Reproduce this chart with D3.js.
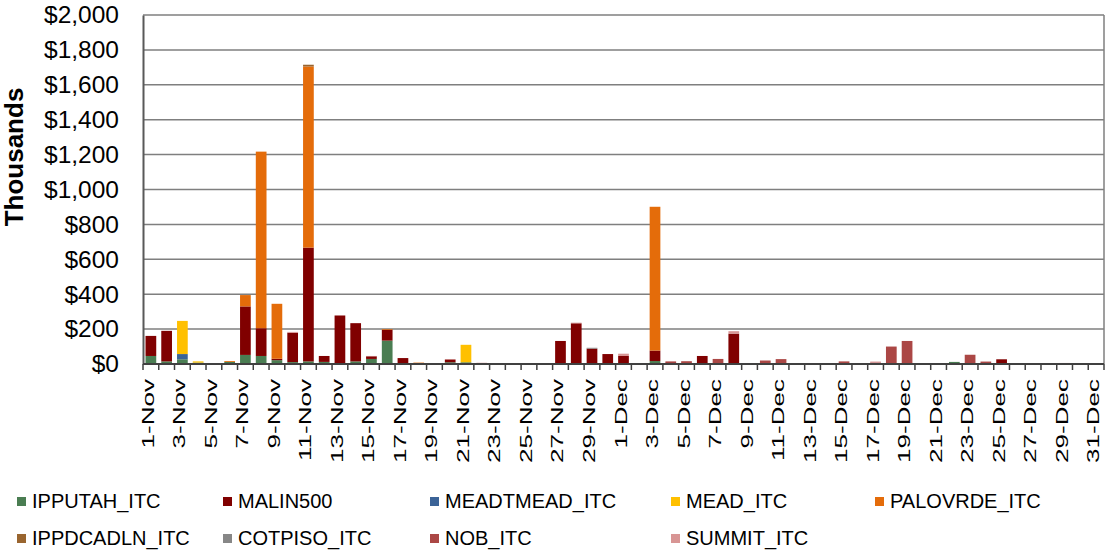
<!DOCTYPE html>
<html><head><meta charset="utf-8">
<script src="https://cdn.jsdelivr.net/npm/d3@7"></script>
<style>body{margin:0;background:#fff}svg{display:block}text{font-family:"Liberation Sans",Arial,sans-serif}</style>
</head><body><svg id="c" width="1106" height="550"></svg>
<script>
const months = [["Nov",30],["Dec",31]];
const categories = [];
months.forEach(([m,n]) => { for (let d=1; d<=n; d++) categories.push(d + "-" + m); });

const seriesNames = ["IPPUTAH_ITC","MALIN500","MEADTMEAD_ITC","MEAD_ITC","PALOVRDE_ITC","IPPDCADLN_ITC","COTPISO_ITC","NOB_ITC","SUMMIT_ITC"];
const seriesColors = ["#4a7d52","#800000","#3b6397","#ffc000","#e46c0a","#99652f","#878787","#ab4745","#d89594"];

// values in thousands of $, one per day (1-Nov .. 31-Dec)
const IPPUTAH_ITC   = [46,15,27,8,4,12,52,46,22,11,15,12,0,15,29,134,0,0,0,10,10,0,0,0,0,0,0,0,0,0, 0,0,17,0,0,0,0,0,0,0,0,0,0,0,0,0,0,0,0,0,0,12,0,0,0,0,0,0,0,0,0];
const MALIN500      = [115,175,0,0,0,0,278,159,8,168,652,34,278,219,14,62,34,0,0,13,0,0,0,0,0,0,132,232,88,57, 46,0,60,10,4,46,0,174,0,0,0,0,0,0,0,0,8,0,0,0,0,0,0,4,27,0,0,2,0,0,0];
const MEADTMEAD_ITC = [0,0,30,0,0,0,0,0,0,0,0,0,0,0,0,0,0,0,0,0,0,0,0,0,0,0,0,0,0,0, 0,0,0,0,0,0,0,0,0,0,0,0,0,0,0,0,0,0,0,0,0,0,0,0,0,0,0,0,0,0,0];
const MEAD_ITC      = [0,0,190,7,0,0,0,0,0,0,0,0,0,0,0,0,0,0,0,0,100,0,0,0,0,0,0,0,0,0, 0,0,0,0,0,0,0,0,0,0,0,0,0,0,0,0,0,0,0,0,0,0,0,0,0,0,0,0,0,0,0];
const PALOVRDE_ITC  = [0,0,0,0,0,5,65,1012,315,0,1038,0,0,0,0,4,0,8,0,0,0,0,0,0,0,0,0,0,0,0, 0,0,824,0,0,0,0,0,0,0,0,0,0,0,0,0,0,0,0,0,0,0,0,0,0,0,0,0,0,0,0];
const IPPDCADLN_ITC = [0,0,0,0,0,0,0,0,0,0,10,0,0,0,0,0,0,0,0,0,0,0,0,0,0,0,0,0,0,0, 0,0,0,0,0,0,0,0,0,0,0,0,0,0,0,0,0,0,0,0,0,0,0,0,0,0,0,0,0,0,0];
const COTPISO_ITC   = [0,0,0,0,0,0,0,0,0,0,0,0,0,0,0,0,0,0,0,0,0,0,0,0,0,0,0,0,5,0, 0,0,0,0,0,0,0,0,0,0,0,0,0,0,0,0,0,0,0,0,0,0,0,0,0,0,0,0,0,0,0];
const NOB_ITC       = [0,0,0,0,0,0,0,0,0,0,0,0,0,0,3,0,0,0,0,4,0,0,0,0,0,0,0,4,0,0, 0,0,0,5,12,0,29,0,0,20,28,0,0,3,15,0,0,100,132,0,0,0,53,10,0,0,0,0,0,0,0];
const SUMMIT_ITC    = [0,0,0,0,0,0,0,0,0,5,0,0,0,0,0,0,0,0,0,0,0,7,0,0,0,0,0,0,0,0, 13,5,0,0,0,0,0,14,3,0,0,0,0,0,0,0,6,0,0,0,0,0,0,0,0,0,0,0,6,0,0];

const yTicks = [0,200,400,600,800,1000,1200,1400,1600,1800,2000];

const seriesValues = [IPPUTAH_ITC,MALIN500,MEADTMEAD_ITC,MEAD_ITC,PALOVRDE_ITC,IPPDCADLN_ITC,COTPISO_ITC,NOB_ITC,SUMMIT_ITC];
const table = categories.map((c,i) => { const o = {cat:c}; seriesNames.forEach((s,k)=> o[s]=seriesValues[k][i]); return o; });

const svg = d3.select("#c");
const L = 143, R = 1104, T = 15, B = 364;
const x = d3.scaleBand().domain(categories).range([L,R]).paddingInner(0.32).paddingOuter(0.16);
const y = d3.scaleLinear().domain([0,2000]).range([B,T]);
const color = d3.scaleOrdinal().domain(seriesNames).range(seriesColors);

// gridlines
svg.append("g").selectAll("line").data(yTicks.filter(d=>d>0)).join("line")
  .attr("x1",L).attr("x2",R).attr("y1",d=>y(d)).attr("y2",d=>y(d))
  .attr("stroke","#7f7f7f").attr("stroke-width",1.5);
// right border
svg.append("line").attr("x1",R).attr("x2",R).attr("y1",T).attr("y2",B).attr("stroke","#7f7f7f").attr("stroke-width",1.5);

// stacked bars
const stack = d3.stack().keys(seriesNames)(table);
svg.append("g").selectAll("g").data(stack).join("g").attr("fill",d=>color(d.key))
  .selectAll("rect").data(d=>d).join("rect")
  .attr("x",d=>x(d.data.cat)).attr("width",x.bandwidth())
  .attr("y",d=>y(d[1])).attr("height",d=>Math.max(0,y(d[0])-y(d[1])));

// y axis
const yAxis = svg.append("g").attr("transform",`translate(${L},0)`)
  .call(d3.axisLeft(y).tickValues(yTicks).tickFormat(d3.format("$,")).tickSize(0).tickPadding(24));
yAxis.select(".domain").attr("stroke","#595959").attr("stroke-width",2);
yAxis.selectAll("text").attr("font-size",24.5).attr("fill","#000").attr("font-family","Liberation Sans, Arial");

// x axis line and ticks
svg.append("line").attr("x1",L).attr("x2",R).attr("y1",B).attr("y2",B).attr("stroke","#404040").attr("stroke-width",2);
const step = x.step();
svg.append("g").selectAll("line").data(d3.range(categories.length+1)).join("line")
  .attr("x1",i=>L+i*step).attr("x2",i=>L+i*step).attr("y1",B).attr("y2",B+6)
  .attr("stroke","#404040").attr("stroke-width",1.5);

// x labels (every other day)
svg.append("g").selectAll("text").data(categories.filter((c,i)=>i%2===0)).join("text")
  .attr("transform",d=>`translate(${x(d)+x.bandwidth()/2+3},379) rotate(-90) scale(1.58,1)`)
  .attr("text-anchor","end").attr("font-size",16.5).attr("fill","#000").text(d=>d);

// y title
svg.append("text").attr("transform","translate(23,157) rotate(-90)").attr("text-anchor","middle")
  .attr("font-size",26).attr("font-weight","bold").attr("fill","#000").text("Thousands");

// legend
const legX = [17,223,430,671,875];
const leg = svg.append("g").selectAll("g").data(seriesNames).join("g")
  .attr("transform",(d,i)=>`translate(${legX[i%5]},${i<5?497:534})`);
leg.append("rect").attr("width",9).attr("height",9).attr("fill",d=>color(d));
leg.append("text").attr("x",15).attr("y",11).attr("font-size",20).attr("fill","#000").text(d=>d);
</script></body></html>
